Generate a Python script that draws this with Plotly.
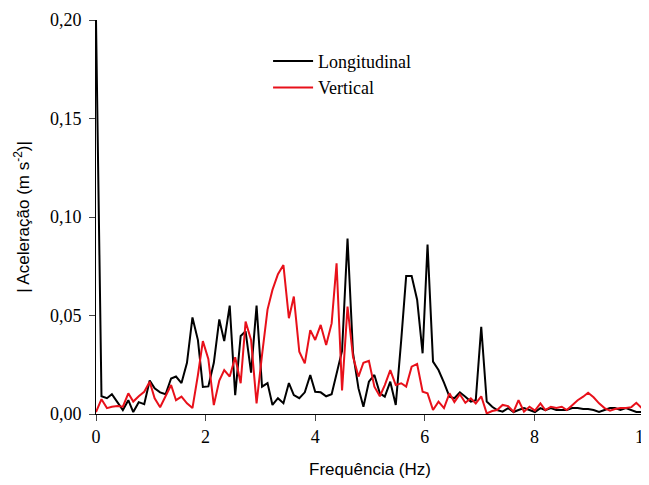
import plotly.graph_objects as go

freq_hz = [0.00, 0.10, 0.20, 0.29, 0.39, 0.49, 0.59, 0.68, 0.78, 0.88,
           0.98, 1.07, 1.17, 1.27, 1.37, 1.46, 1.56, 1.66, 1.76, 1.86,
           1.95, 2.05, 2.15, 2.25, 2.34, 2.44, 2.54, 2.64, 2.73, 2.83,
           2.93, 3.03, 3.13, 3.22, 3.32, 3.42, 3.52, 3.61, 3.71, 3.81,
           3.91, 4.00, 4.10, 4.20, 4.30, 4.39, 4.49, 4.59, 4.69, 4.79,
           4.88, 4.98, 5.08, 5.18, 5.27, 5.37, 5.47, 5.57, 5.66, 5.76,
           5.86, 5.96, 6.05, 6.15, 6.25, 6.35, 6.45, 6.54, 6.64, 6.74,
           6.84, 6.93, 7.03, 7.13, 7.23, 7.32, 7.42, 7.52, 7.62, 7.71,
           7.81, 7.91, 8.01, 8.11, 8.20, 8.30, 8.40, 8.50, 8.59, 8.69,
           8.79, 8.89, 8.98, 9.08, 9.18, 9.28, 9.38, 9.47, 9.57, 9.67,
           9.77, 9.86, 9.96]

longitudinal = [0.200, 0.009, 0.008, 0.010, 0.006, 0.002, 0.007, 0.001, 0.006, 0.005,
                0.017, 0.013, 0.011, 0.010, 0.018, 0.019, 0.0157, 0.026, 0.049, 0.0375,
                0.0137, 0.014, 0.026, 0.048, 0.037, 0.055, 0.0096, 0.0396, 0.042, 0.021,
                0.055, 0.0139, 0.0157, 0.0046, 0.008, 0.0055, 0.0157, 0.0096, 0.008, 0.011,
                0.0198, 0.0113, 0.011, 0.009, 0.010, 0.021, 0.032, 0.089, 0.031, 0.013,
                0.0037, 0.0164, 0.0198, 0.0105, 0.0088, 0.0164, 0.0046, 0.0376, 0.070, 0.070,
                0.058, 0.0308, 0.086, 0.0266, 0.0223, 0.0159, 0.0088, 0.008, 0.011, 0.0088,
                0.0063, 0.007, 0.0443, 0.0063, 0.0037, 0.002, 0.0012, 0.003, 0.001, 0.002,
                0.003, 0.002, 0.001, 0.003, 0.002, 0.003, 0.002, 0.002, 0.002, 0.003,
                0.003, 0.0025, 0.0025, 0.002, 0.001, 0.002, 0.003, 0.003, 0.002, 0.003,
                0.002, 0.001, 0.001]

vertical = [0.001, 0.0075, 0.003, 0.0037, 0.004, 0.0037, 0.0105, 0.0063, 0.009, 0.0113,
            0.0164, 0.008, 0.0034, 0.009, 0.0147, 0.007, 0.0088, 0.0054, 0.003, 0.0198,
            0.037, 0.028, 0.0045, 0.017, 0.0223, 0.019, 0.0288, 0.0156, 0.0469, 0.0376,
            0.0054, 0.030, 0.053, 0.063, 0.071, 0.0756, 0.0486, 0.0596, 0.0316, 0.0257,
            0.0426, 0.0376, 0.0452, 0.035, 0.046, 0.0765, 0.012, 0.0545, 0.029, 0.019,
            0.026, 0.027, 0.0139, 0.009, 0.0147, 0.0223, 0.0147, 0.0156, 0.0139, 0.024,
            0.0254, 0.0113, 0.0105, 0.002, 0.0063, 0.003, 0.0105, 0.006, 0.010, 0.0057,
            0.008, 0.0054, 0.009, 0.0003, 0.0015, 0.002, 0.0046, 0.004, 0.0012, 0.007,
            0.0012, 0.0037, 0.0017, 0.0054, 0.002, 0.0037, 0.003, 0.0037, 0.002, 0.0045,
            0.007, 0.0088, 0.0108, 0.0085, 0.0054, 0.003, 0.0017, 0.0025, 0.003, 0.003,
            0.0035, 0.0057, 0.003]

x_ticks = [0, 2, 4, 6, 8, 10]
y_ticks = [0.00, 0.05, 0.10, 0.15, 0.20]

serif = "Liberation Serif, Times New Roman, serif"
sans = "Liberation Sans, Arial, sans-serif"

fig = go.Figure()
fig.add_trace(go.Scatter(x=freq_hz, y=longitudinal, mode="lines", name="Longitudinal",
                         line=dict(color="black", width=2)))
fig.add_trace(go.Scatter(x=freq_hz, y=vertical, mode="lines", name="Vertical",
                         line=dict(color="#e8101a", width=2)))

# page body has an 8px default margin, so the figure is sized to fit inside it
fig.update_layout(
    width=641, height=477,
    margin=dict(l=88, r=5, t=12, b=71),
    plot_bgcolor="white", paper_bgcolor="white",
    separators=",.",
    showlegend=True,
    legend=dict(x=0.314, y=0.942, xanchor="left", yanchor="top",
                font=dict(family=serif, size=18, color="black"),
                itemwidth=40, tracegroupgap=0,
                bgcolor="rgba(0,0,0,0)"),
    xaxis=dict(range=[0, 10], tickvals=x_ticks, ticks="outside", ticklen=6,
               showline=True, linecolor="black", linewidth=1, showgrid=False,
               zeroline=False, automargin=False, ticklabeloverflow="allow",
               tickfont=dict(family=serif, size=18, color="black"),
               title=dict(text="Frequência (Hz)", font=dict(family=sans, size=17, color="black"),
                          standoff=17)),
    yaxis=dict(range=[0, 0.2], tickvals=y_ticks, tickformat=".2f", ticks="outside", ticklen=6,
               showline=True, linecolor="black", linewidth=1, showgrid=False,
               zeroline=False, automargin=False, ticklabelstandoff=4,
               tickfont=dict(family=serif, size=18, color="black"),
               title=dict(text="| Aceleração (m s<sup>-2</sup>)|",
                          font=dict(family=sans, size=17, color="black"), standoff=15)),
)

fig.write_html("out.html")
